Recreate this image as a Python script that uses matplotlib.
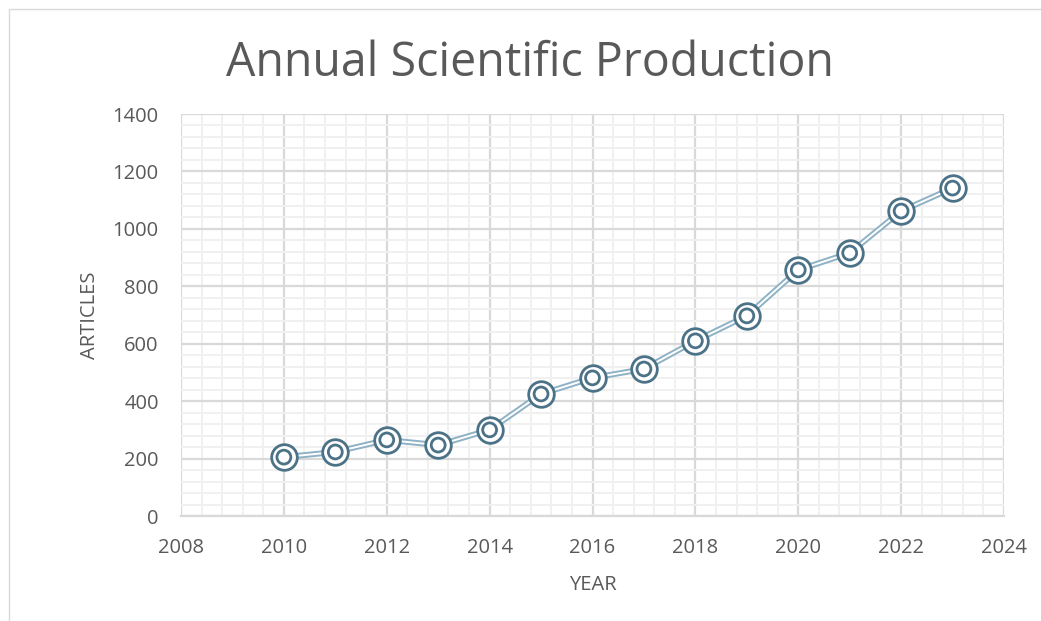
import matplotlib.pyplot as plt
import matplotlib.ticker as ticker
from matplotlib.patches import Rectangle

# ── Data ─────────────────────────────────────────────────────────────────────
YEARS    = [2010, 2011, 2012, 2013, 2014, 2015, 2016, 2017, 2018, 2019, 2020, 2021, 2022, 2023]
ARTICLES = [205, 223, 265, 247, 300, 425, 481, 512, 610, 697, 857, 916, 1062, 1142]

TITLE  = "Annual Scientific Production"
XLABEL = "YEAR"
YLABEL = "ARTICLES"

LINE_COLOR   = "#8eb2c5"
MARKER_COLOR = "#4b7286"
TEXT_COLOR   = "#595959"
MAJOR_GRID   = "#d9d9d9"
MINOR_GRID   = "#f0f0f0"

plt.rcParams['font.family'] = ['Open Sans', 'DejaVu Sans']

fig = plt.figure(figsize=(10.41, 6.21), dpi=100)
W, H = 1041, 621

# outer chart frame (only left and top edges are inside the crop)
fig.patches.append(Rectangle((9 / W, -0.2), 1.2, 1.2 - 9 / H, transform=fig.transFigure,
                             fill=False, edgecolor="#d9d9d9", linewidth=1.0))

ax = fig.add_axes([181 / W, 1 - 516 / H, (1004 - 181) / W, (516 - 114) / H])

# double line: wide light stroke with a thin white core
ax.plot(YEARS, ARTICLES, color=LINE_COLOR, linewidth=4.2, solid_capstyle='round', zorder=3)
ax.plot(YEARS, ARTICLES, color="white", linewidth=1.4, zorder=4)

# double-ring markers
ax.scatter(YEARS, ARTICLES, s=340, facecolor="white", edgecolor=MARKER_COLOR,
           linewidth=2.0, zorder=5)
ax.scatter(YEARS, ARTICLES, s=100, facecolor="none", edgecolor=MARKER_COLOR,
           linewidth=2.0, zorder=6)

ax.set_xlim(2008, 2024)
ax.set_ylim(0, 1400)
ax.xaxis.set_major_locator(ticker.MultipleLocator(2))
ax.xaxis.set_minor_locator(ticker.MultipleLocator(0.4))
ax.yaxis.set_major_locator(ticker.MultipleLocator(200))
ax.yaxis.set_minor_locator(ticker.MultipleLocator(40))

ax.grid(which='minor', color=MINOR_GRID, linewidth=1.4, zorder=0)
ax.grid(which='major', color=MAJOR_GRID, linewidth=1.6, zorder=1)
ax.set_axisbelow(True)

for side in ['top', 'right', 'left']:
    ax.spines[side].set_visible(False)
ax.spines['bottom'].set_color(MAJOR_GRID)
ax.spines['bottom'].set_linewidth(1.6)

ax.tick_params(which='both', length=0)
ax.tick_params(axis='x', labelsize=14.5, labelcolor=TEXT_COLOR, pad=16)
ax.tick_params(axis='y', labelsize=14.5, labelcolor=TEXT_COLOR, pad=16)

ax.set_xlabel(XLABEL, fontsize=14.5, color=TEXT_COLOR, labelpad=12)
ax.set_ylabel(YLABEL, fontsize=14.5, color=TEXT_COLOR, labelpad=9)

fig.text(530 / W, 1 - 63 / H, TITLE, fontsize=33.5, color=TEXT_COLOR,
         ha='center', va='center')

fig.savefig("out.png", dpi=100)
